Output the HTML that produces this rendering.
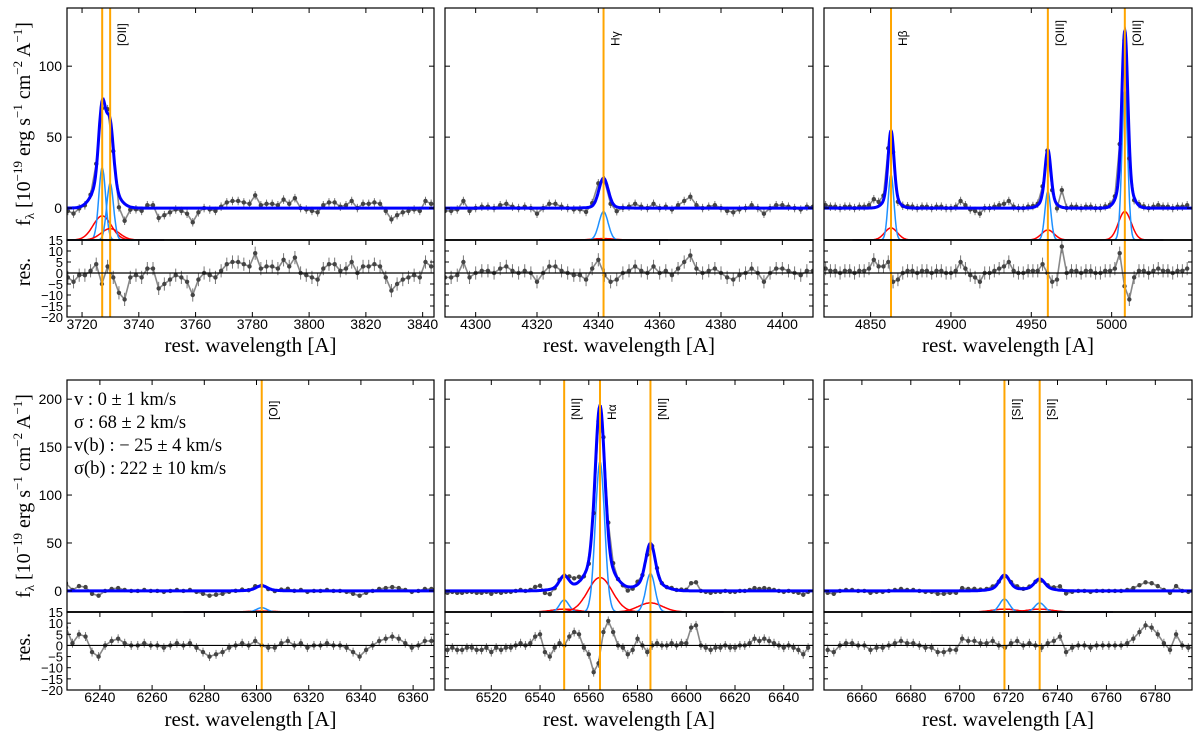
<!DOCTYPE html>
<html><head><meta charset="utf-8"><style>
body{margin:0;background:#fff}
svg{display:block}
text{font-family:"Liberation Sans",sans-serif}
.serif{font-family:"Liberation Serif",serif}
</style></head><body>
<svg id="fig" width="1200" height="743" viewBox="0 0 1200 743" xmlns="http://www.w3.org/2000/svg"></svg>
<script>
// ---------- data ----------
const p1Centers=[3727.1,3729.9], p1NarrowAmp=[51,40], p1NarrowSig=[1.2,1.2], p1BroadAmp=[17,8], p1BroadSig=[3.2,3.2];
const p1Labels=["","[OII]"];
const p1ResStart=3715, p1ResStep=2;
const p1Resid=[-2,-4,-1,-1,1,4,-5,3,-2,-9,-12,-2,-1,-2,2,2,-7,-5,-3,-1,-2,-4,-10,-3,0,-1,-2,1,4,5,5,4,3,9,2,3,3,2,6,3,7,0,-1,-2,-3,2,4,4,1,2,5,0,3,3,4,3,-2,-8,-5,-3,-2,-1,-2,5,3];
const p1XTicks=[3720,3740,3760,3780,3800,3820,3840];
const p2Centers=[4341.7], p2NarrowAmp=[20], p2NarrowSig=[1.5], p2BroadAmp=[1], p2BroadSig=[3.5];
const p2Labels=["H\u03b3"];
const p2ResStart=4290, p2ResStep=2;
const p2Resid=[-2,-2,-1,5,-2,0,1,1,0,2,3,1,0,1,0,-4,0,3,3,1,0,-1,-1,-3,2,6,-1,-4,-3,0,1,3,1,0,3,0,1,-1,2,5,8,2,0,1,2,0,-2,-3,-1,0,2,0,-4,0,2,2,1,0,-1,1,1];
const p2XTicks=[4300,4320,4340,4360,4380,4400];
const p3Centers=[4862.7,4960.3,5008.2], p3NarrowAmp=[46,34,105], p3NarrowSig=[1.8,1.8,1.8], p3BroadAmp=[8.5,7,20], p3BroadSig=[4,4,4];
const p3Labels=["H\u03b2","[OIII]","[OIII]"];
const p3ResStart=4822, p3ResStep=3;
const p3Resid=[2,1,1,0,1,1,0,1,1,2,6,3,3,5,-4,-3,0,1,1,0,1,1,0,1,1,0,0,1,5,2,-1,-2,-4,0,0,1,2,3,5,1,0,0,1,1,1,4,0,-4,-3,12,0,1,1,0,1,1,0,0,1,1,2,9,-6,-12,-2,1,1,0,1,2,1,1,0,1,1,2];
const p3XTicks=[4850,4900,4950,5000];
const p4Centers=[6302.0], p4NarrowAmp=[4.5], p4NarrowSig=[2], p4BroadAmp=[1], p4BroadSig=[5];
const p4Labels=["[OI]"];
const p4ResStart=6227, p4ResStep=2.5;
const p4Resid=[8,1,5,4,-3,-5,0,2,3,1,0,0,1,0,0,-1,0,1,0,1,-1,-3,-5,-4,-3,-1,0,1,0,2,0,-1,-1,1,2,0,1,-1,0,0,1,0,0,-1,-3,-5,-2,0,2,3,4,3,1,-1,0,2,2];
const p4XTicks=[6240,6260,6280,6300,6320,6340,6360];
const p5Centers=[6549.9,6564.6,6585.3], p5NarrowAmp=[12.5,157,40], p5NarrowSig=[1.9,1.9,1.9], p5BroadAmp=[3,36,9.5], p5BroadSig=[5,5,5];
const p5Labels=["[NII]","H\u03b1","[NII]"];
const p5ResStart=6500, p5ResStep=2;
const p5Resid=[-1,-2,-1,-2,-2,-1,-1,-2,-2,-1,-3,-1,-2,-1,-1,0,1,0,1,4,5,-3,-5,-1,1,0,4,6,5,-1,-4,-12,-8,6,11,6,0,-1,-4,-2,3,0,-3,0,1,0,0,1,0,1,1,8,9,0,-1,-2,-1,-1,0,-1,-1,0,0,1,3,2,3,2,1,0,-1,0,-1,-2,-4,-1];
const p5XTicks=[6520,6540,6560,6580,6600,6620,6640];
const p6Centers=[6718.3,6732.7], p6NarrowAmp=[13.5,9.5], p6NarrowSig=[2,2], p6BroadAmp=[3,3], p6BroadSig=[5,5];
const p6Labels=["[SII]","[SII]"];
const p6ResStart=6646, p6ResStep=2.5;
const p6Resid=[-2,-3,0,1,1,0,0,-2,-1,-1,0,1,2,1,1,0,-1,-1,-3,-3,-2,-2,3,2,2,1,1,2,0,-1,1,2,0,1,0,-1,1,2,4,-3,-1,0,0,-1,0,0,0,0,0,1,3,6,9,8,5,1,-2,5,0,-1,-1];
const p6XTicks=[6660,6680,6700,6720,6740,6760,6780];

const topYTicks=[0,50,100], botYTicks=[0,50,100,150,200], resYTicks=[15,10,5,0,-5,-10,-15,-20];

// ---------- layout ----------
const cols=[[67,434],[445,813],[824,1192]];
const rows=[
 {main:[8,240],res:[240,317],yr:[-22.5,141],ticks:topYTicks,err:3,xl:329,xt:352},
 {main:[380,612],res:[612,690],yr:[-22,220],ticks:botYTicks,err:2,xl:702,xt:726}
];
const panels=[
 {r:0,c:0,xr:[3714.7,3844],C:p1Centers,NA:p1NarrowAmp,NS:p1NarrowSig,BA:p1BroadAmp,BS:p1BroadSig,L:p1Labels,rs:p1ResStart,st:p1ResStep,R:p1Resid,xt:p1XTicks},
 {r:0,c:1,xr:[4290,4410],C:p2Centers,NA:p2NarrowAmp,NS:p2NarrowSig,BA:p2BroadAmp,BS:p2BroadSig,L:p2Labels,rs:p2ResStart,st:p2ResStep,R:p2Resid,xt:p2XTicks},
 {r:0,c:2,xr:[4821,5050],C:p3Centers,NA:p3NarrowAmp,NS:p3NarrowSig,BA:p3BroadAmp,BS:p3BroadSig,L:p3Labels,rs:p3ResStart,st:p3ResStep,R:p3Resid,xt:p3XTicks},
 {r:1,c:0,xr:[6227.4,6368],C:p4Centers,NA:p4NarrowAmp,NS:p4NarrowSig,BA:p4BroadAmp,BS:p4BroadSig,L:p4Labels,rs:p4ResStart,st:p4ResStep,R:p4Resid,xt:p4XTicks},
 {r:1,c:1,xr:[6501,6652],C:p5Centers,NA:p5NarrowAmp,NS:p5NarrowSig,BA:p5BroadAmp,BS:p5BroadSig,L:p5Labels,rs:p5ResStart,st:p5ResStep,R:p5Resid,xt:p5XTicks},
 {r:1,c:2,xr:[6644.5,6795],C:p6Centers,NA:p6NarrowAmp,NS:p6NarrowSig,BA:p6BroadAmp,BS:p6BroadSig,L:p6Labels,rs:p6ResStart,st:p6ResStep,R:p6Resid,xt:p6XTicks}
];

const NS="http://www.w3.org/2000/svg";
const svg=document.getElementById('fig');
function mk(tag,attrs,parent){const e=document.createElementNS(NS,tag);for(const k in attrs)e.setAttribute(k,attrs[k]);(parent||svg).appendChild(e);return e;}
function g(x,a,s){return a*Math.exp(-x*x/(2*s*s));}

panels.forEach((p,pi)=>{
  const row=rows[p.r],[x0,x1]=cols[p.c];
  const X=w=>x0+(w-p.xr[0])/(p.xr[1]-p.xr[0])*(x1-x0);
  const Y=v=>row.main[1]-(v-row.yr[0])/(row.yr[1]-row.yr[0])*(row.main[1]-row.main[0]);
  const RY=v=>row.res[1]-(v+20)/35*(row.res[1]-row.res[0]);
  const narrow=(w,i)=>g(w-p.C[i],p.NA[i],p.NS[i]);
  const broad=(w,i)=>g(w-p.C[i],p.BA[i],p.BS[i]);
  const total=w=>{let s=0;for(let i=0;i<p.C.length;i++)s+=narrow(w,i)+broad(w,i);return s;};
  const grp=mk('g',{});
  
  
  const cid='clip'+pi;
  const cp=mk('clipPath',{id:cid},grp);
  mk('rect',{x:x0,y:row.main[0],width:x1-x0,height:row.res[1]-row.main[0]},cp);
  const cg=mk('g',{'clip-path':'url(#'+cid+')'},grp);
  for(let i=0;i<p.C.length;i++){
    let dn='',db='';
    for(let w=p.C[i]-6*p.BS[i];w<=p.C[i]+6*p.BS[i];w+=0.25){
      dn+=(dn?'L':'M')+X(w).toFixed(1)+','+Y(row.yr[0]+narrow(w,i)).toFixed(1);
      db+=(db?'L':'M')+X(w).toFixed(1)+','+Y(row.yr[0]+broad(w,i)).toFixed(1);
    }
    const b=mk('path',{d:db,fill:'none',stroke:'#ff0000','stroke-width':1.5},cg);
    
    
    const n=mk('path',{d:dn,fill:'none',stroke:'#1e90ff','stroke-width':1.5},cg);
    
    
  }
  // data trace (connects observed points)
  let dd='',dr='';
  p.R.forEach((r,k)=>{const w=p.rs+k*p.st;
    dd+=(dd?'L':'M')+X(w).toFixed(1)+','+Y(total(w)+r).toFixed(1);
    dr+=(dr?'L':'M')+X(w).toFixed(1)+','+RY(r).toFixed(1);});
  const tr1=mk('path',{d:dd,fill:'none',stroke:'#555','stroke-width':1.6,'stroke-opacity':0.7},cg);
  
  
  const tr2=mk('path',{d:dr,fill:'none',stroke:'#555','stroke-width':1.6,'stroke-opacity':0.7},cg);
  
  
  p.R.forEach((r,k)=>{
    const w=p.rs+k*p.st, v=total(w)+r, e=row.err;
    const dl=mk('line',{x1:X(w),x2:X(w),y1:Y(v-e),y2:Y(v+e),stroke:'#777','stroke-width':1},cg);
    
    
    const dc=mk('circle',{cx:X(w),cy:Y(v),r:2.2,fill:'#444'},cg);
    
    
    const rl=mk('line',{x1:X(w),x2:X(w),y1:RY(r-e),y2:RY(r+e),stroke:'#777','stroke-width':1},cg);
    
    
    const rc=mk('circle',{cx:X(w),cy:RY(r),r:2.2,fill:'#444'},cg);
    
    
  });
  let dt='';
  for(let w=p.xr[0];w<=p.xr[1];w+=0.25)dt+=(dt?'L':'M')+X(w).toFixed(1)+','+Y(total(w)).toFixed(1);
  const tm=mk('path',{d:dt,fill:'none',stroke:'#0000ff','stroke-width':3},cg);
  
  
  p.C.forEach((c,i)=>{
    const ol=mk('line',{x1:X(c),x2:X(c),y1:row.main[0],y2:row.res[1],stroke:'#ffa500','stroke-width':2},cg);
    
    
    if(p.L[i]){
      const bx=X(c)+16, by=row.main[0]+(p.r===0?38:40);
      const t=mk('text',{x:bx,y:by,'font-size':12,transform:'rotate(-90 '+bx+' '+by+')'},grp);
      t.textContent=p.L[i];
      
      
    }
  });
  const z=mk('line',{x1:x0,x2:x1,y1:RY(0),y2:RY(0),stroke:'#000','stroke-width':1.2},grp);
  
  
  mk('rect',{x:x0,y:row.main[0],width:x1-x0,height:row.main[1]-row.main[0],fill:'none',stroke:'#000','stroke-width':1.2},grp);
  mk('rect',{x:x0,y:row.res[0],width:x1-x0,height:row.res[1]-row.res[0],fill:'none',stroke:'#000','stroke-width':1.2},grp);
  mk('line',{x1:x0,x2:x1,y1:row.main[1],y2:row.main[1],stroke:'#000','stroke-width':1.8},grp);
  row.ticks.forEach(v=>{
    const y=Y(v);
    mk('line',{x1:x0,x2:x0+5,y1:y,y2:y,stroke:'#000'},grp);
    mk('line',{x1:x1,x2:x1-5,y1:y,y2:y,stroke:'#000'},grp);
    if(p.c===0){const t=mk('text',{x:x0-5,y:y+5,'font-size':14,'text-anchor':'end'},grp);t.textContent=v;
      
      }
  });
  resYTicks.forEach(v=>{
    const y=RY(v);
    mk('line',{x1:x0,x2:x0+4,y1:y,y2:y,stroke:'#000'},grp);
    mk('line',{x1:x1,x2:x1-4,y1:y,y2:y,stroke:'#000'},grp);
    if(p.c===0){const t=mk('text',{x:x0-4,y:y+5,'font-size':13,'text-anchor':'end'},grp);t.textContent=(v<0?'\u2212'+(-v):v);
      
      }
  });
  p.xt.forEach(v=>{
    const x=X(v);
    mk('line',{x1:x,x2:x,y1:row.res[1],y2:row.res[1]-5,stroke:'#000'},grp);
    mk('line',{x1:x,x2:x,y1:row.main[0],y2:row.main[0]+5,stroke:'#000'},grp);
    mk('line',{x1:x,x2:x,y1:row.res[0],y2:row.res[0]+5,stroke:'#000'},grp);
    const t=mk('text',{x:x,y:row.xl,'font-size':14,'text-anchor':'middle'},grp);
    t.textContent=v;
    
    
  });
  const xt=mk('text',{x:(x0+x1)/2,y:row.xt,'font-size':21,'text-anchor':'middle','class':'serif'},grp);
  xt.textContent='rest.  wavelength [A]';
  
  
});

[[124,272],[496,647]].forEach(([cy,ry])=>{
  const t=mk('text',{x:30,y:cy,'font-size':20,'text-anchor':'middle','class':'serif',transform:'rotate(-90 30 '+cy+')'});
  t.innerHTML='f<tspan font-size="13" dy="4">\u03bb</tspan><tspan dy="-4"> [10</tspan><tspan font-size="13" dy="-8">\u221219</tspan><tspan dy="8"> erg s</tspan><tspan font-size="13" dy="-8">\u22121</tspan><tspan dy="8"> cm</tspan><tspan font-size="13" dy="-8">\u22122</tspan><tspan dy="8"> A</tspan><tspan font-size="13" dy="-8">\u22121</tspan><tspan dy="8">]</tspan>';
  
  
  const r=mk('text',{x:30,y:ry,'font-size':20,'text-anchor':'middle','class':'serif',transform:'rotate(-90 30 '+ry+')'});
  r.textContent='res.';
  
  
});

const stats=['v : 0 \u00b1 1 km/s','\u03c3 : 68 \u00b1 2 km/s','v(b) : \u2212 25 \u00b1 4 km/s','\u03c3(b) : 222 \u00b1 10 km/s'];
stats.forEach((s,i)=>{
  const t=mk('text',{x:74,y:405+i*23,'font-size':18.5,'class':'serif'});
  t.textContent=s;
  
  
});
</script>
</body></html>
